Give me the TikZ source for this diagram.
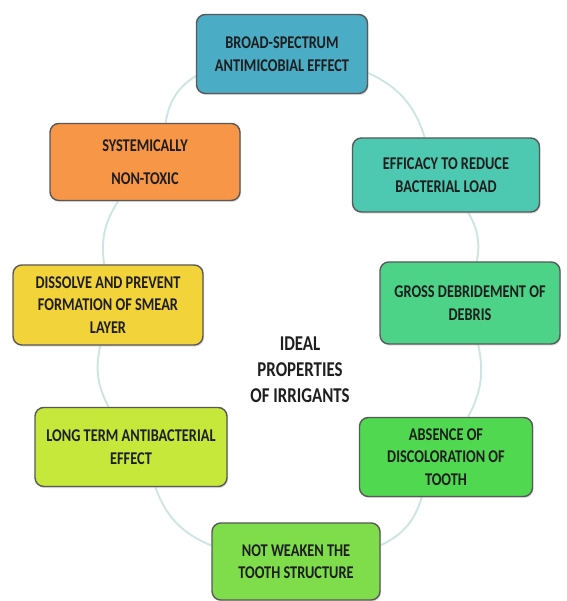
\documentclass[tikz,border=0pt]{standalone}
\usepackage{fontspec}
\setmainfont{Carlito}
\newfontfamily\condfont[FakeStretch=0.8]{Carlito}
\usepackage{tikz}
\usetikzlibrary{backgrounds,shadows}

\definecolor{propblue}{RGB}{75,172,198}
\definecolor{propteal}{RGB}{76,201,176}
\definecolor{propgreenA}{RGB}{77,211,135}
\definecolor{propgreenB}{RGB}{80,216,80}
\definecolor{propgreenC}{RGB}{127,220,75}
\definecolor{proplime}{RGB}{197,232,58}
\definecolor{propyellow}{RGB}{242,211,58}
\definecolor{proporange}{RGB}{247,150,70}
\definecolor{propedge}{RGB}{88,88,88}
\definecolor{ringline}{RGB}{205,230,226}
\definecolor{proptext}{RGB}{30,30,30}

\begin{document}
\begin{tikzpicture}[
        prop/.style={rectangle, draw=propedge, line width=0.8pt, rounded corners=5pt,
            align=center, minimum width=#1, minimum height=1.58cm, inner sep=2pt,
            text=proptext, font=\condfont\bfseries\fontsize{10.2}{12.8}\selectfont,
            drop shadow={opacity=0.25, shadow xshift=0.6pt, shadow yshift=-0.9pt}},
        prop/.default=3.6cm,
        title/.style={align=center, text=proptext, font=\condfont\bfseries\fontsize{12}{14.8}\selectfont},
        ring/.style={draw=ringline, line width=1.1pt}
    ]
        \useasboundingbox (0,0) rectangle (11.32,12.02);

        \node [prop=3.42cm, fill=propblue] (broad) at (5.64,10.94) {BROAD-SPECTRUM\\ANTIMICOBIAL EFFECT};
        \node [prop=3.74cm, fill=propteal, minimum height=1.48cm] (efficacy) at (8.92,8.52) {EFFICACY TO REDUCE\\BACTERIAL LOAD};
        \node [prop=3.60cm, fill=propgreenA, minimum height=1.64cm] (gross) at (9.40,5.96) {GROSS DEBRIDEMENT OF\\DEBRIS};
        \node [prop=3.46cm, fill=propgreenB] (absence) at (8.92,2.88) {ABSENCE OF\\DISCOLORATION OF\\TOOTH};
        \node [prop=3.36cm, fill=propgreenC, minimum height=1.54cm] (weaken) at (5.92,0.79) {NOT WEAKEN THE\\TOOTH STRUCTURE};
        \node [prop=3.84cm, fill=proplime] (longterm) at (2.62,3.08) {LONG TERM ANTIBACTERIAL\\EFFECT};
        \node [prop=3.80cm, fill=propyellow, minimum height=1.60cm] (dissolve) at (2.16,5.92) {DISSOLVE AND PREVENT\\FORMATION OF SMEAR\\LAYER};
        \node [prop=3.80cm, fill=proporange, minimum height=1.54cm] (systemic) at (2.90,8.78) {SYSTEMICALLY\\[6pt]NON-TOXIC};

        \node [title] (ideal) at (6.00,4.62) {IDEAL\\PROPERTIES\\OF IRRIGANTS};

        \begin{scope}[on background layer]
            \path [ring] (broad) to[bend left=24] (efficacy);
            \path [ring] (efficacy) to[bend left=20] (gross);
            \path [ring] (gross) to[bend left=20] (absence);
            \path [ring] (absence) to[bend left=24] (weaken);
            \path [ring] (weaken) to[bend left=24] (longterm);
            \path [ring] (longterm) to[bend left=20] (dissolve);
            \path [ring] (dissolve) to[bend left=20] (systemic);
            \path [ring] (systemic) to[bend left=24] (broad);
        \end{scope}
    \end{tikzpicture}
\end{document}
